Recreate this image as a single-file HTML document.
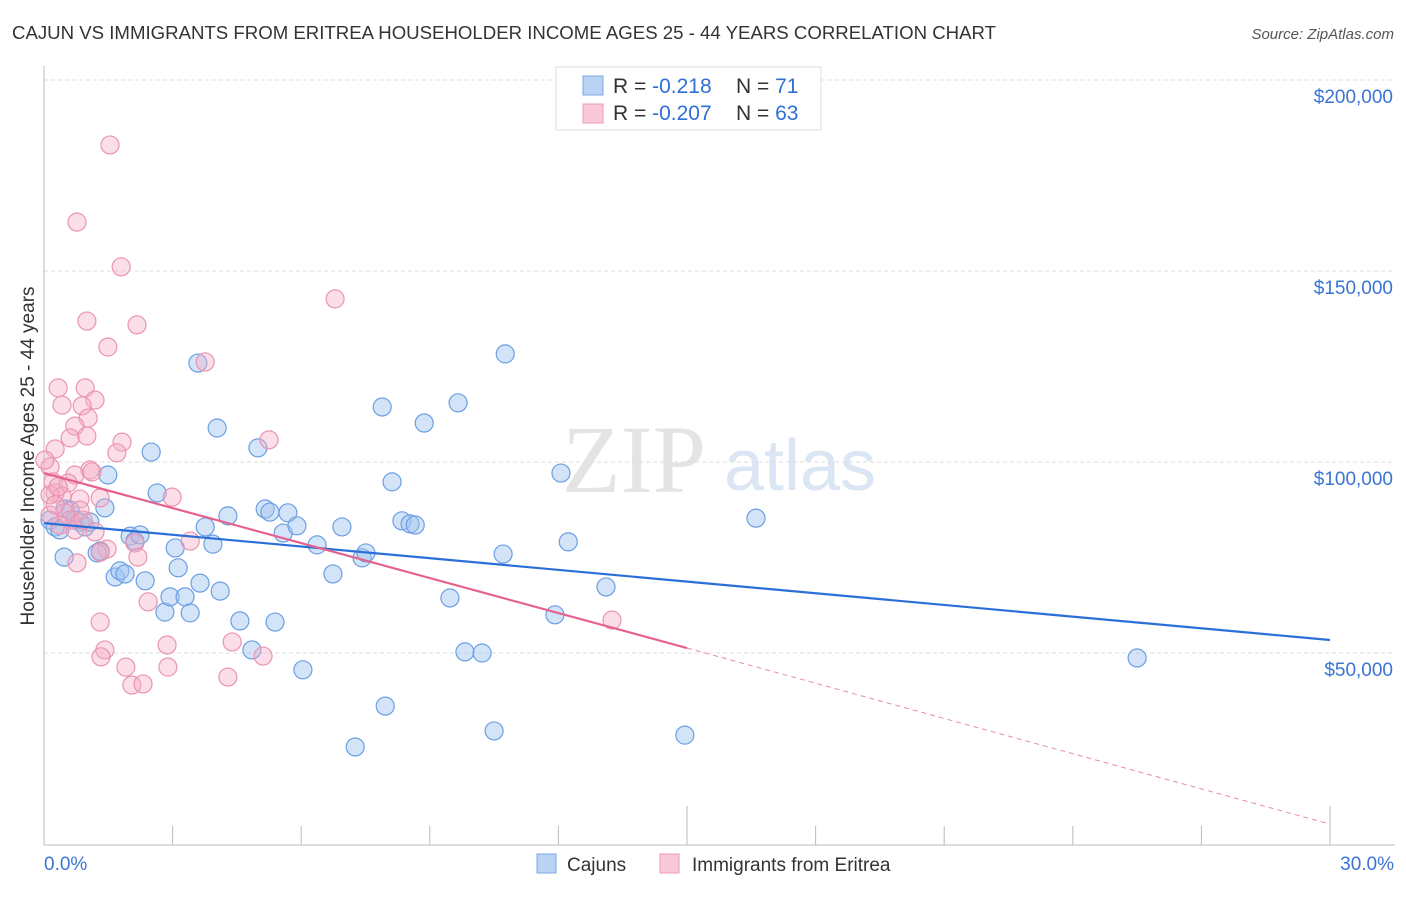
<!DOCTYPE html>
<html><head><meta charset="utf-8"><style>
body{margin:0;background:#fff;font-family:"Liberation Sans",sans-serif;}
</style></head><body>
<svg id="c" width="1406" height="892" xmlns="http://www.w3.org/2000/svg">
<text x="12" y="39" font-size="18" fill="#333" textLength="984" lengthAdjust="spacingAndGlyphs">CAJUN VS IMMIGRANTS FROM ERITREA HOUSEHOLDER INCOME AGES 25 - 44 YEARS CORRELATION CHART</text>
<text x="1394" y="39" font-size="15" fill="#555" font-style="italic" text-anchor="end">Source: ZipAtlas.com</text>
<text x="634" y="492" font-size="96" fill="#e4e4e4" font-family="Liberation Serif,serif" text-anchor="middle">ZIP</text>
<text x="800" y="490" font-size="72" fill="#dbe6f4" text-anchor="middle">atlas</text>
<g id="grid"></g>
<g id="axes"></g>
<g id="pts"></g>
<g id="trend"></g>
<text transform="translate(34,456) rotate(-90)" font-size="19" fill="#333" text-anchor="middle">Householder Income Ages 25 - 44 years</text>
<g>
<rect x="556" y="67" width="265" height="63" fill="#fff" stroke="#ddd"/>
<rect x="583" y="76" width="20" height="19" fill="#b9d3f4" stroke="#7aa7e4"/>
<rect x="583" y="104" width="20" height="19" fill="#fbc8d8" stroke="#ec9bb5"/>
<text x="613" y="93" font-size="21" fill="#333">R = <tspan fill="#2f6fd6">-0.218</tspan><tspan x="736">N = </tspan><tspan fill="#2f6fd6">71</tspan></text>
<text x="613" y="120" font-size="21" fill="#333">R = <tspan fill="#2f6fd6">-0.207</tspan><tspan x="736">N = </tspan><tspan fill="#2f6fd6">63</tspan></text>
</g>
<g>
<rect x="537" y="854" width="19" height="19" fill="#b9d3f4" stroke="#7aa7e4"/>
<text x="567" y="871" font-size="19" fill="#333">Cajuns</text>
<rect x="660" y="854" width="19" height="19" fill="#fbc8d8" stroke="#ec9bb5"/>
<text x="692" y="871" font-size="19" fill="#333">Immigrants from Eritrea</text>
</g>
</svg>
<script>
const yTicks=[50000,100000,150000,200000];
const yTickLabels=["$50,000","$100,000","$150,000","$200,000"];
const xTickLabels=["0.0%","30.0%"];
const cajunX=[0.14,0.26,0.37,0.49,0.61,0.72,0.84,0.96,1.07,0.47,1.31,1.24,1.42,1.49,1.66,1.77,1.89,2.01,2.12,2.24,2.36,2.50,2.64,2.82,2.94,3.06,3.13,3.29,3.41,3.64,3.59,3.76,3.94,4.04,4.11,4.29,4.57,4.85,4.99,5.16,5.27,5.39,5.58,5.69,5.90,6.04,6.37,6.74,6.95,7.26,7.42,7.51,7.89,7.96,8.12,8.35,8.54,8.66,8.87,9.47,9.66,9.82,10.22,10.50,10.71,10.76,11.92,12.06,12.23,13.11,14.95,16.61,25.50];
const cajunY=[84.8,83.0,82.2,87.7,87.4,84.8,84.3,83.0,84.3,75.1,76.7,76.2,88.0,96.6,69.9,71.5,70.7,80.6,79.3,80.9,68.9,102.6,91.9,60.7,64.7,77.5,72.3,64.7,60.5,68.3,125.9,83.0,78.5,108.9,66.2,85.9,58.4,50.8,103.7,87.7,86.9,58.1,81.4,86.7,83.3,45.6,78.3,70.7,83.0,25.4,74.9,76.2,114.4,36.1,94.8,84.6,83.8,83.5,110.2,64.4,115.5,50.3,50.0,29.6,75.9,128.3,60.0,97.1,79.1,67.3,28.5,85.3,48.7];
const eritX=[1.54,0.77,1.80,6.79,2.17,1.00,1.49,3.76,0.33,0.96,1.19,0.42,0.89,1.03,0.72,0.61,1.00,1.82,5.25,0.26,1.70,0.14,1.07,0.72,1.12,0.21,0.56,0.26,0.42,0.84,1.31,2.99,0.84,0.49,0.61,0.37,0.72,1.19,0.14,2.12,1.47,1.31,3.41,2.19,0.77,1.31,2.43,2.87,1.42,1.33,4.39,5.11,1.91,2.89,4.29,2.05,2.31,13.25,0.14,0.26,0.33,0.91,0.02];
const eritY=[183.0,162.8,151.1,142.7,135.9,136.9,130.1,126.2,119.4,119.4,116.2,114.9,114.7,111.5,109.4,106.3,106.8,105.2,105.8,103.4,102.4,98.7,97.9,96.6,97.4,94.8,94.5,91.9,91.1,90.3,90.6,90.8,87.4,86.7,84.8,83.5,82.2,81.7,86.1,78.8,77.2,76.4,79.3,75.1,73.6,58.1,63.4,52.1,50.8,49.0,52.9,49.2,46.3,46.3,43.7,41.6,41.9,58.6,91.4,88.8,93.5,84.8,100.5];
const cajunTrend=[84.0,53.4];
const eritTrend=[97.1,51.3,5.2];
const NS="http://www.w3.org/2000/svg";
const sx=v=>44+v*42.867;
const sy=v=>844-v/50000*191;
const syk=v=>sy(v*1000);
function mk(tag,attrs,parent){const e=document.createElementNS(NS,tag);for(const k in attrs)e.setAttribute(k,attrs[k]);document.getElementById(parent).appendChild(e);return e;}
yTicks.forEach((t,i)=>{
  const g=mk('line',{x1:44,x2:1395,y1:sy(t),y2:sy(t),stroke:'#ddd','stroke-dasharray':'4,3'},'grid');
  
  
  const l=mk('text',{x:1393,y:sy(t)+23,'font-size':19,fill:'#3a74d4','text-anchor':'end'},'axes');
  l.textContent=yTickLabels[i];
  
  
});
const ya=mk('line',{x1:44,x2:44,y1:66,y2:845,stroke:'#bbb'},'axes');


const xa=mk('line',{x1:44,x2:1395,y1:845,y2:845,stroke:'#bbb'},'axes');


for(let i=1;i<=10;i++){
  const tk=mk('line',{x1:sx(i*3),x2:sx(i*3),y1:(i%5==0)?806:826,y2:845,stroke:'#bbb'},'axes');
  
  
}
[[0,'start',44],[30,'end',1394]].forEach((d,i)=>{
  const l=mk('text',{x:d[2],y:870,'font-size':19,fill:'#3a74d4','text-anchor':d[1]},'axes');
  l.textContent=xTickLabels[i];
  
  
});
cajunX.forEach((x,i)=>{
  const c=mk('circle',{cx:sx(x),cy:syk(cajunY[i]),r:9,fill:'rgba(160,196,240,0.45)',stroke:'#6a9fe3','stroke-width':1.2},'pts');
  
  
});
eritX.forEach((x,i)=>{
  const c=mk('circle',{cx:sx(x),cy:syk(eritY[i]),r:9,fill:'rgba(245,172,196,0.4)',stroke:'#ea94b2','stroke-width':1.2},'pts');
  
  
});
const bt=mk('line',{x1:sx(0),y1:syk(cajunTrend[0]),x2:sx(30),y2:syk(cajunTrend[1]),stroke:'#2a6fd8','stroke-width':2.2},'trend');


const pt=mk('line',{x1:sx(0),y1:syk(eritTrend[0]),x2:sx(15),y2:syk(eritTrend[1]),stroke:'#e5628e','stroke-width':2.2},'trend');


const pd=mk('line',{x1:sx(15),y1:syk(eritTrend[1]),x2:sx(30),y2:syk(eritTrend[2]),stroke:'#e98aa9','stroke-width':1,'stroke-dasharray':'5,4'},'trend');


</script>
</body></html>
